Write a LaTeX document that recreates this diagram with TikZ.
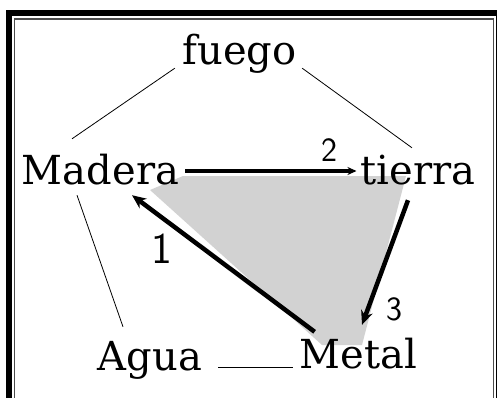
\documentclass[tikz,border=0pt]{standalone}
\usepackage{fontspec}
\newfontfamily\wordfont{DejaVu Serif}
\usetikzlibrary{arrows.meta}

\begin{document}
\begin{tikzpicture}[x=1pt,y=-1pt,
  word/.style={inner sep=0pt,text height=32pt,text depth=9pt,anchor=base,font=\wordfont\fontsize{40}{44}\selectfont},
  num/.style={inner sep=0pt,font=\sffamily\fontsize{34}{36}\selectfont},
  thin/.style={line width=.8pt},
  arr/.style={-{Stealth[length=14pt,width=12pt]},line width=4.5pt}]
\useasboundingbox (0,0) rectangle (497,398);
\clip (0,0) rectangle (497,398);
% double frame, open at the bottom
\draw[line width=6pt] (8.5,420) -- (8.5,13.5) -- (499,13.5) -- (499,420);
\draw[line width=1.2pt,black!70] (14.5,420) -- (14.5,19) -- (493.5,19) -- (493.5,420);
% shaded triangle
\fill[gray!35] (183,176) -- (406,176) -- (362,345) -- (322,345) -- (150,190) -- cycle;
% the five words
\node[word,minimum width=115pt] (fuego) at (239.5,65) {fuego};
\node[word,minimum width=153pt] (madera) at (100.5,184) {Madera};
\node[word,minimum width=112pt] (tierra) at (418,184) {tierra};
\node[word,minimum width=110pt] (agua) at (150,370) {Agua};
\node[word,minimum width=107pt] (metal) at (358.5,368) {Metal};
% thin links
\draw[thin] ([shift={(-7,-6)}]fuego.south west) -- ([shift={(-28.5,-13)}]madera.north);
\draw[thin] ([shift={(5,-6)}]fuego.south east) -- ([shift={(-6,-4)}]tierra.north);
\draw[thin] ([shift={(-23.5,2)}]madera.south) -- ([shift={(-27,-11)}]agua.north);
\draw[thin] ([shift={(13,-3)}]agua.base east) -- ([shift={(-7,-1)}]metal.base west);
% numbered arrows
\draw[arr,line width=4pt,-{Stealth[length=9pt,width=8pt]}] ([shift={(6,-1.5)}]madera.east) -- ([shift={(-4,-1.5)}]tierra.west);
\draw[arr] ([shift={(-10,7)}]tierra.south) -- ([shift={(3.5,-11)}]metal.north);
\draw[arr] ([shift={(15,-4)}]metal.north west) -- ([shift={(31.5,2)}]madera.south);
\node[num] (n2) at (329,150) {2};
\node[num] (n3) at (394,309) {3};
\node[num,font=\sffamily\fontsize{44}{46}\selectfont] (n1) at (162,249) {1};
\end{tikzpicture}
\end{document}
